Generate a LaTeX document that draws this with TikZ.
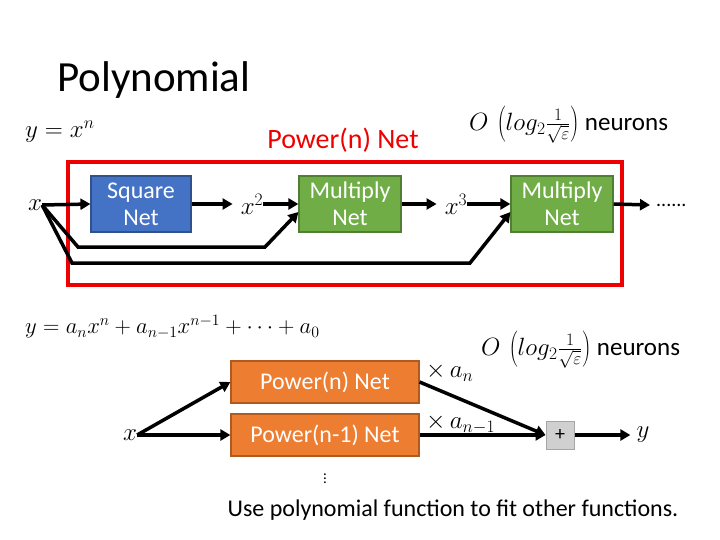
\documentclass[tikz,border=0pt]{standalone}
\usepackage{fix-cm}
\usepackage{fontspec}
\setmainfont{Carlito}
\usetikzlibrary{arrows.meta,calc}
\definecolor{sqblue}{HTML}{4472C4}
\definecolor{sqblueb}{HTML}{2F528F}
\definecolor{mgreen}{HTML}{70AD47}
\definecolor{mgreenb}{HTML}{507E32}
\definecolor{porange}{HTML}{ED7D31}
\definecolor{porangeb}{HTML}{AE5A21}
\definecolor{pgray}{HTML}{D0D0D0}
\definecolor{pgrayb}{HTML}{A5A5A5}
\definecolor{fred}{HTML}{EE0000}
\begin{document}
\begin{tikzpicture}[x=1pt,y=-1pt,
  arr/.style={line width=3.5pt,-{Triangle[length=10pt,width=11pt]}},
  boxbase/.style={draw, line width=1.2pt, text=white, align=center, inner sep=0pt,
    font=\fontsize{24}{27}\selectfont},
  sqbox/.style={boxbase, fill=sqblue, draw=sqblueb, minimum width=100pt, minimum height=56pt},
  mulbox/.style={boxbase, fill=mgreen, draw=mgreenb, minimum width=102pt, minimum height=56pt},
  powbox/.style={boxbase, fill=porange, draw=porangeb, minimum width=188pt, minimum height=42pt},
  plusbox/.style={draw=pgrayb, fill=pgray, line width=1pt, minimum width=28pt, minimum height=28pt, inner sep=0pt, font=\fontsize{20}{22}\selectfont},
  mathlbl/.style={inner sep=0pt, font=\fontsize{25}{28}\selectfont},
  neulbl/.style={inner sep=0pt, font=\fontsize{25}{28}\selectfont},
  txt/.style={inner sep=0pt, font=\fontsize{24}{27}\selectfont}
]
\useasboundingbox (0,0) rectangle (720,540);

\node[anchor=west, inner sep=0pt, font=\fontsize{43}{46}\selectfont] (title) at (57,80) {Polynomial};

% top part
\node[mathlbl, anchor=west] (eq1) at (25,132) {$y=x^n$};
\node[txt, text=fred, font=\fontsize{28}{30}\selectfont] (pnlbl) at (343,140) {Power(n) Net};
\node[neulbl, anchor=west] (neu1) at (469,125) {$O\,\left(log_2\frac{1}{\sqrt{\varepsilon}}\right)$ neurons};

\node[draw=fred, line width=4pt, minimum width=554pt, minimum height=123pt, inner sep=0pt] (frame) at (345,223.5) {};

\node[mathlbl] (x1) at (35,205) {$x$};
\node[sqbox] (sq) at (141,204) {Square\\Net};
\node[mathlbl] (x2sq) at (252,204) {$x^2$};
\node[mulbox] (m1) at (350,204) {Multiply\\Net};
\node[mathlbl] (x3) at (456,204) {$x^3$};
\node[mulbox] (m2) at (562,204) {Multiply\\Net};
\node[inner sep=0pt, font=\fontsize{20}{22}\selectfont, anchor=west] (dots) at (656,205) {......};

\draw[arr] (x1.east) -- (sq.west);
\draw[arr] (sq.east) -- ($(x2sq.west)+(-8,0)$);
\draw[arr] (x2sq.east) -- (m1.west);
\draw[arr] (m1.east) -- ($(x3.west)+(-8,0)$);
\draw[arr] (x3.east) -- (m2.west);
\draw[arr] (m2.east) -- ($(dots.west)+(-6,0)$);

\coordinate (b1) at (78,247);
\coordinate (b2) at (265,247);
\coordinate (c1) at (72,263);
\coordinate (c2) at (470,263);
\draw[arr, line join=miter] (x1.east) -- (b1) -- (b2) -- ($(m1.west)+(0,8)$);
\draw[arr, line join=miter] (x1.east) -- (c1) -- (c2) -- ($(m2.west)+(0,8)$);

% bottom part
\node[inner sep=0pt, font=\fontsize{22.7}{25}\selectfont, anchor=west] (eq2) at (25,327) {$y=a_nx^n+a_{n-1}x^{n-1}+\cdots+a_0$};
\node[neulbl, anchor=west] (neu2) at (481,350) {$O\,\left(log_2\frac{1}{\sqrt{\varepsilon}}\right)$ neurons};

\node[mathlbl] (xb) at (130,435) {$x$};
\node[powbox] (p1) at (325,382) {Power(n) Net};
\node[powbox] (p2) at (325,435) {Power(n-1) Net};
\node[inner sep=0pt, font=\fontsize{15}{17}\selectfont] (vd) at (325,476) {$\vdots$};
\node[plusbox] (plus) at (560,435) {+};
\node[mathlbl] (yb) at (643,435) {$y$};

\draw[arr] (xb.east) -- (p1.west);
\draw[arr] (xb.east) -- (p2.west);
\draw[arr] (p1.east) -- (plus.west);
\draw[arr] (p2.east) -- (plus.west);
\draw[arr] (plus.east) -- ($(yb.west)+(-6,0)$);

\node[mathlbl, anchor=west] (an) at (426,372) {$\times\, a_n$};
\node[mathlbl, anchor=west] (an1) at (426,424) {$\times\, a_{n-1}$};

\node[txt] (note) at (453,510) {Use polynomial function to fit other functions.};
\end{tikzpicture}
\end{document}
